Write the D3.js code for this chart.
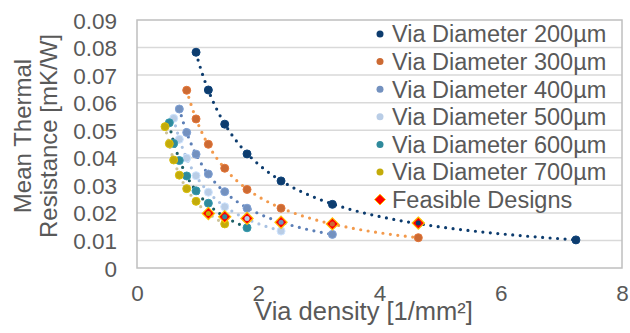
<!DOCTYPE html>
<html lang="en">
<head>
  <meta charset="UTF-8">
  <script src="https://d3js.org/d3.v7.min.js"></script>
  <style>
    body {
      margin: 0;
      padding: 0;
      overflow: hidden;
      background: #fff;
      font-family: "Liberation Sans", Arial, sans-serif;
    }
    text { fill: #595959; }
  </style>
</head>
<body>
  <script>
    // series names + colours (marker / trendline)
    const seriesNames = ['Via Diameter 200µm', 'Via Diameter 300µm', 'Via Diameter 400µm',
      'Via Diameter 500µm', 'Via Diameter 600µm', 'Via Diameter 700µm'];
    const markerColors = ['#0d3c6e', '#cc6a33', '#7391bf', '#b9cde6', '#2f8a9c', '#c3ab0a'];
    const trendColors = ['#0d3c6e', '#f39a4c', '#5c7fb6', '#a9c2e2', '#1d5f66', '#cdc398'];

    // via density [1/mm²] per series
    const x200 = [0.974, 1.177, 1.447, 1.815, 2.376, 3.223, 4.64, 7.24];
    const x300 = [0.82, 0.974, 1.177, 1.447, 1.815, 2.376, 3.223, 4.64];
    const x400 = [0.698, 0.82, 0.974, 1.177, 1.447, 1.815, 2.376, 3.223];
    const x500 = [0.605, 0.698, 0.82, 0.974, 1.177, 1.447, 1.815, 2.376];
    const x600 = [0.533, 0.605, 0.698, 0.82, 0.974, 1.177, 1.447, 1.815];
    const x700 = [0.462, 0.533, 0.605, 0.698, 0.82, 0.974, 1.177, 1.447];

    // mean thermal resistance [mK/W]
    const y200 = [0.0783, 0.0646, 0.0522, 0.0414, 0.0316, 0.0231, 0.0163, 0.0102];
    const y300 = [0.0645, 0.0541, 0.0449, 0.0362, 0.0285, 0.0217, 0.016, 0.011];
    const y400 = [0.0577, 0.0492, 0.0413, 0.0341, 0.0277, 0.0217, 0.0166, 0.0122];
    const y500 = [0.0543, 0.0467, 0.0399, 0.0335, 0.0275, 0.0222, 0.018, 0.0134];
    const y600 = [0.0527, 0.0452, 0.039, 0.0334, 0.028, 0.0235, 0.0186, 0.0146];
    const y700 = [0.0513, 0.0451, 0.0392, 0.0337, 0.0288, 0.0242, 0.0198, 0.016];

    // feasible designs (and which series they sit on)
    const feasibleX = [1.177, 1.447, 1.815, 2.376, 3.223, 4.64];
    const feasibleY = [0.0198, 0.0186, 0.018, 0.0166, 0.016, 0.0163];
    const feasibleSeries = [5, 4, 3, 2, 1, 0];

    const xTicks = [0, 2, 4, 6, 8];
    const yTicks = [0, 0.01, 0.02, 0.03, 0.04, 0.05, 0.06, 0.07, 0.08, 0.09];

    const xs = [x200, x300, x400, x500, x600, x700];
    const ys = [y200, y300, y400, y500, y600, y700];

    const width = 630, height = 333;
    const plot = { left: 137, right: 622, top: 20, bottom: 268 };

    const svg = d3.select('body').append('svg')
      .attr('width', width)
      .attr('height', height);

    const x = d3.scaleLinear().domain([0, 8]).range([plot.left, plot.right]);
    const y = d3.scaleLinear().domain([0, 0.09]).range([plot.bottom, plot.top]);

    // gridlines
    svg.append('g')
      .selectAll('line')
      .data(yTicks.slice(1, -1))
      .enter().append('line')
      .attr('x1', plot.left).attr('x2', plot.right)
      .attr('y1', d => y(d)).attr('y2', d => y(d))
      .attr('stroke', '#d9d9d9')
      .attr('stroke-width', 1.5);

    // plot border
    svg.append('rect')
      .attr('x', plot.left).attr('y', plot.top)
      .attr('width', plot.right - plot.left)
      .attr('height', plot.bottom - plot.top)
      .attr('fill', 'none')
      .attr('stroke', '#bfbfbf')
      .attr('stroke-width', 1.5);

    // axes (labels only)
    const yAxis = svg.append('g')
      .attr('transform', `translate(${plot.left - 20},0)`)
      .call(d3.axisLeft(y).tickValues(yTicks).tickSize(0).tickPadding(0)
        .tickFormat(d => d === 0 ? '0' : d3.format('.2f')(d)));
    yAxis.select('.domain').remove();
    yAxis.selectAll('text')
      .attr('font-size', 22.5)
      .attr('font-family', '"Liberation Sans", Arial, sans-serif')
      .attr('dy', '0.36em');

    const xAxis = svg.append('g')
      .attr('transform', `translate(0,${plot.bottom + 17})`)
      .call(d3.axisBottom(x).tickValues(xTicks).tickSize(0).tickPadding(0));
    xAxis.select('.domain').remove();
    xAxis.selectAll('text')
      .attr('font-size', 22.5)
      .attr('font-family', '"Liberation Sans", Arial, sans-serif')
      .attr('dy', '0.72em');

    // axis titles
    svg.append('text')
      .attr('x', 364).attr('y', 320)
      .attr('text-anchor', 'middle')
      .attr('font-size', 25.5)
      .text('Via density [1/mm²]');

    const yTitle = svg.append('text')
      .attr('transform', 'translate(0,136) rotate(-90)')
      .attr('text-anchor', 'middle')
      .attr('font-size', 24);
    yTitle.append('tspan').attr('x', 0).attr('y', 31).text('Mean Thermal');
    yTitle.append('tspan').attr('x', 0).attr('y', 57).text('Resistance [mK/W]');

    // power trendlines (least squares in log-log space)
    function powerFit(xv, yv) {
      const lx = xv.map(Math.log), ly = yv.map(Math.log);
      const mx = d3.mean(lx), my = d3.mean(ly);
      const b = d3.sum(lx, (v, i) => (v - mx) * (ly[i] - my)) / d3.sum(lx, v => (v - mx) * (v - mx));
      const a = Math.exp(my - b * mx);
      const [lo, hi] = d3.extent(xv);
      return d3.range(0, 201).map(i => {
        const xx = lo + (hi - lo) * i / 200;
        return [xx, a * Math.pow(xx, b)];
      });
    }

    const line = d3.line().x(d => x(d[0])).y(d => y(d[1]));

    svg.append('g')
      .selectAll('path')
      .data(xs.map((xv, i) => powerFit(xv, ys[i])))
      .enter().append('path')
      .attr('d', line)
      .attr('fill', 'none')
      .attr('stroke', (d, i) => trendColors[i])
      .attr('stroke-width', 3.2)
      .attr('stroke-linecap', 'round')
      .attr('stroke-dasharray', '0,7.5');

    // series markers
    xs.forEach((xv, i) => {
      svg.append('g')
        .selectAll('circle')
        .data(xv.map((v, j) => [v, ys[i][j]]))
        .enter().append('circle')
        .attr('cx', d => x(d[0]))
        .attr('cy', d => y(d[1]))
        .attr('r', 4)
        .attr('fill', markerColors[i])
        .attr('stroke', d3.color(markerColors[i]).brighter(0.3))
        .attr('stroke-width', 1);
    });

    // feasible designs
    const diamond = d3.symbol().type(d3.symbolDiamond2).size(95);
    const feas = svg.append('g')
      .selectAll('g')
      .data(feasibleX.map((v, i) => ({ x: v, y: feasibleY[i], s: feasibleSeries[i] })))
      .enter().append('g')
      .attr('transform', d => `translate(${x(d.x)},${y(d.y)})`);
    feas.append('path')
      .attr('d', diamond)
      .attr('fill', '#ff0000')
      .attr('stroke', '#ffc000')
      .attr('stroke-width', 1.2);
    feas.append('circle')
      .attr('r', 2.5)
      .attr('fill', d => markerColors[d.s]);

    // legend
    const legendNames = seriesNames.concat(['Feasible Designs']);
    const legend = svg.append('g')
      .selectAll('g')
      .data(legendNames)
      .enter().append('g')
      .attr('transform', (d, i) => `translate(380,${34 + i * 27.6})`);
    legend.filter((d, i) => i < 6).append('circle')
      .attr('r', 3.5)
      .attr('fill', (d, i) => markerColors[i]);
    legend.filter((d, i) => i === 6).append('path')
      .attr('d', d3.symbol().type(d3.symbolDiamond2).size(75))
      .attr('fill', '#ff0000')
      .attr('stroke', '#ffc000')
      .attr('stroke-width', 1);
    legend.append('text')
      .attr('x', 12)
      .attr('dy', '0.36em')
      .attr('font-size', 23.5)
      .text(d => d);
  </script>
</body>
</html>
